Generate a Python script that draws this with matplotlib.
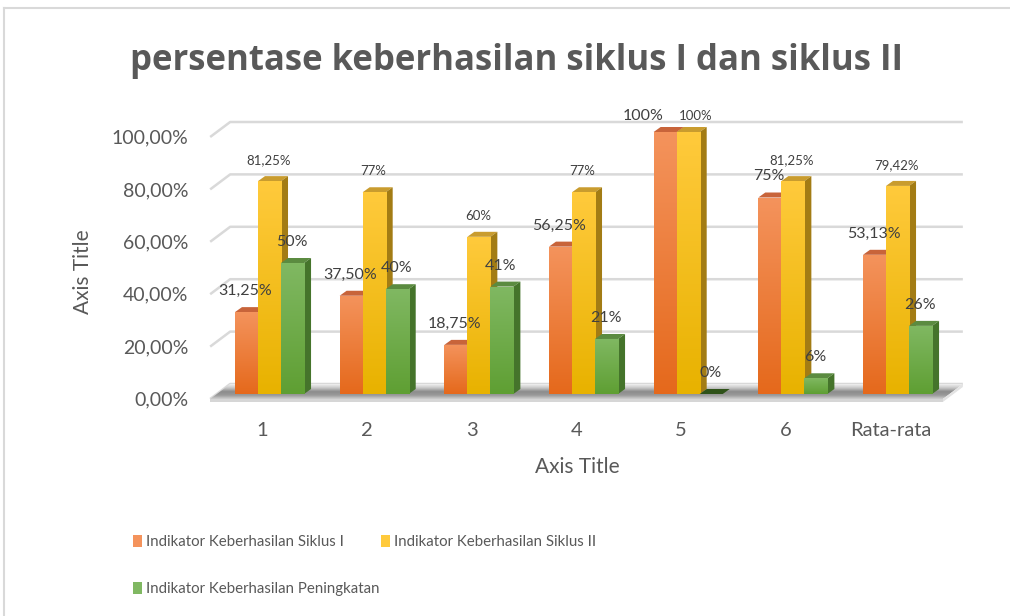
import numpy as np
import matplotlib
matplotlib.use("Agg")
import matplotlib.pyplot as plt
from matplotlib.patches import Polygon, Patch
from matplotlib.lines import Line2D
from matplotlib.colors import to_rgb
import matplotlib.transforms as mtransforms

# ---------------- data ----------------
categories = ["1", "2", "3", "4", "5", "6", "Rata-rata"]
series_names = ["Indikator Keberhasilan Siklus I",
                "Indikator Keberhasilan Siklus II",
                "Indikator Keberhasilan Peningkatan"]
siklus1 = [31.25, 37.50, 18.75, 56.25, 100, 75, 53.13]
siklus2 = [81.25, 77, 60, 77, 100, 81.25, 79.42]
peningkatan = [50, 40, 41, 21, 0, 6, 26]
labels1 = ["31,25%", "37,50%", "18,75%", "56,25%", "100%", "75%", "53,13%"]
labels2 = ["81,25%", "77%", "60%", "77%", "100%", "81,25%", "79,42%"]
labels3 = ["50%", "40%", "41%", "21%", "0%", "6%", "26%"]
yticks = [0, 20, 40, 60, 80, 100]
ytick_labels = ["0,00%", "20,00%", "40,00%", "60,00%", "80,00%", "100,00%"]
title = "persentase keberhasilan siklus I dan siklus II"
x_title = "Axis Title"
y_title = "Axis Title"

# ---------------- style ----------------
FONT = "Lato"
plt.rcParams["font.family"] = [FONT, "DejaVu Sans"]
W, H, DPI = 1010, 616, 100
TXT = "#595959"
LBL = "#404040"
GRID = "#d9d9d9"

front_cols = [("#f4935c", "#e5691c"), ("#ffca3c", "#e8b200"), ("#80b862", "#5f9f33")]
top_cols = ["#c8643a", "#c99c2e", "#5b8b40"]
side_cols = ["#b4521c", "#a37c14", "#45742b"]
zero_top = ["#8a3f18", "#7d5e0c", "#2f5219"]
label_sizes = [11.5, 9.5, 11.5]

fig = plt.figure(figsize=(W / DPI, H / DPI), dpi=DPI)

# axes mapping (front plane of bars)
X0PX, GPX = 269.5, 104.67
Y0PX, YPX = 394.0, 2.62
xlim = (-0.75, 6.8)
ylim = (-10.0, 113.0)
l = (X0PX + GPX * xlim[0]) / W
r = (X0PX + GPX * xlim[1]) / W
t = 1 - (Y0PX - YPX * ylim[1]) / H
b = 1 - (Y0PX - YPX * ylim[0]) / H
ax = fig.add_axes([l, b, r - l, t - b])
ax.set_xlim(*xlim)
ax.set_ylim(*ylim)
ax.axis("off")

dxp, dyp = 1.0 / GPX, 1.0 / YPX
bw = 0.22
ddx, ddy = 7 * dxp, 5 * dyp           # bar depth
fx, fy = -7 * dxp, -5 * dyp           # box front plane
bx, by = 13 * dxp, 10 * dyp           # box back wall
xa, xb = -0.5, 6.5

# gridlines (left wall diagonal + back wall)
for v in yticks:
    ax.plot([xa + fx, xa + bx, xb + bx], [v + fy, v + by, v + by],
            color=GRID, lw=1.8, zorder=1, solid_capstyle="butt")

# floor
floor = Polygon([(xa + fx, fy), (xb + fx, fy), (xb + bx, by), (xa + bx, by)],
                closed=True, facecolor="none", edgecolor="none", zorder=2)
ax.add_patch(floor)
fg = np.array([to_rgb(c) for c in ["#f0f0f0", "#c8c8c8", "#8c8c8c", "#9a9a9a", "#cfcfcf"]])
gy = np.linspace(0, 1, 5)
yy = np.linspace(0, 1, 64)
grad = np.stack([np.interp(yy, gy, fg[:, k]) for k in range(3)], axis=-1)[:, None, :]
im = ax.imshow(grad, extent=[xa + fx, xb + bx, fy, by], aspect="auto",
               interpolation="bilinear", zorder=2)
im.set_clip_path(floor)
slab = Polygon([(xa + fx, fy), (xb + fx, fy), (xb + fx, fy - 3 * dyp), (xa + fx, fy - 3 * dyp)],
               closed=True, facecolor="#d6d6d6", edgecolor="none", zorder=2)
ax.add_patch(slab)
slab2 = Polygon([(xb + fx, fy), (xb + bx, by), (xb + bx, by - 3 * dyp), (xb + fx, fy - 3 * dyp)],
                closed=True, facecolor="#e3e3e3", edgecolor="none", zorder=2)
ax.add_patch(slab2)

# bars
series = [siklus1, siklus2, peningkatan]
labels = [labels1, labels2, labels3]
xs = np.arange(len(categories))
label_nudge = {(0, 4): (-22, -5), (1, 4): (7, -5)}
for s, vals in enumerate(series):
    z = 10 + 3 * s
    centers = xs - bw + s * bw
    bars = ax.bar(centers, vals, width=bw, color=front_cols[s][0], zorder=z + 1,
                  linewidth=0)
    for i, (rect, v) in enumerate(zip(bars, vals)):
        x0 = rect.get_x()
        x1 = x0 + bw
        tc = top_cols[s] if v > 0 else zero_top[s]
        ax.add_patch(Polygon([(x0, v), (x1, v), (x1 + ddx, v + ddy), (x0 + ddx, v + ddy)],
                             closed=True, facecolor=tc, edgecolor="none", zorder=z))
        if v > 0:
            ax.add_patch(Polygon([(x1, 0), (x1 + ddx, ddy), (x1 + ddx, v + ddy), (x1, v)],
                                 closed=True, facecolor=side_cols[s], edgecolor="none", zorder=z))
            c0, c1 = np.array(to_rgb(front_cols[s][0])), np.array(to_rgb(front_cols[s][1]))
            tt = np.linspace(0, 1, 64)[:, None]
            g = (c0 * (1 - tt) + c1 * tt)[:, None, :]
            gim = ax.imshow(g, extent=[x0, x1, 0, v], aspect="auto",
                            interpolation="bilinear", zorder=z + 1.5)
            gim.set_clip_path(rect)
        nx, ny = label_nudge.get((s, i), (-1, 0))
        ax.annotate(labels[s][i], xy=(rect.get_x() + bw / 2, v),
                    xytext=(nx, 21 + ny), textcoords="offset pixels",
                    ha="center", va="center", fontsize=label_sizes[s],
                    color=LBL, zorder=30)

ax.set_xlim(*xlim)
ax.set_ylim(*ylim)

# y tick labels (box front plane)
ytr = mtransforms.offset_copy(ax.transData, fig=fig, x=-22, y=-1, units="dots")
for v, lab in zip(yticks, ytick_labels):
    ax.text(xa + fx, v + fy, lab, transform=ytr, ha="right", va="center",
            fontsize=14, color=TXT)

# category labels
xtr = mtransforms.offset_copy(ax.transData, fig=fig, x=0, y=-32, units="dots")
for i, c in enumerate(categories):
    ax.text(i + fx, fy, c, transform=xtr, ha="center", va="center",
            fontsize=14.5, color=TXT)

# titles
fig.text(516.5 / W, 1 - 61 / H, title, ha="center", va="center",
         fontsize=25, fontweight="bold", color=TXT, family=["Open Sans", "DejaVu Sans"])
fig.text(577 / W, 1 - 467 / H, x_title, ha="center", va="center", fontsize=15, color=TXT)
fig.text(83 / W, 1 - 272 / H, y_title, ha="center", va="center", rotation=90,
         fontsize=15, color=TXT)

# legend (row-major order for 2 columns)
LFS = 10.8
handles = [Patch(facecolor=front_cols[k][0], edgecolor="none") for k in range(3)]
order = [0, 2, 1]
leg = fig.legend([handles[k] for k in order], [series_names[k] for k in order],
                 loc="upper left", bbox_to_anchor=(133 / W, 1 - 535 / H), ncol=2,
                 frameon=False, fontsize=LFS, handlelength=0.6, handleheight=0.8,
                 handletextpad=0.27, columnspacing=0.1, labelspacing=2.2,
                 borderpad=0, borderaxespad=0)
for txt in leg.get_texts():
    txt.set_color(TXT)

# chart frame (top and left border)
fig.add_artist(Line2D([4 / W, 1], [1 - 8 / H, 1 - 8 / H], color=GRID, lw=1.5,
                      transform=fig.transFigure))
fig.add_artist(Line2D([4 / W, 4 / W], [0, 1 - 8 / H], color=GRID, lw=1.5,
                      transform=fig.transFigure))

fig.savefig("out.png", dpi=DPI)
